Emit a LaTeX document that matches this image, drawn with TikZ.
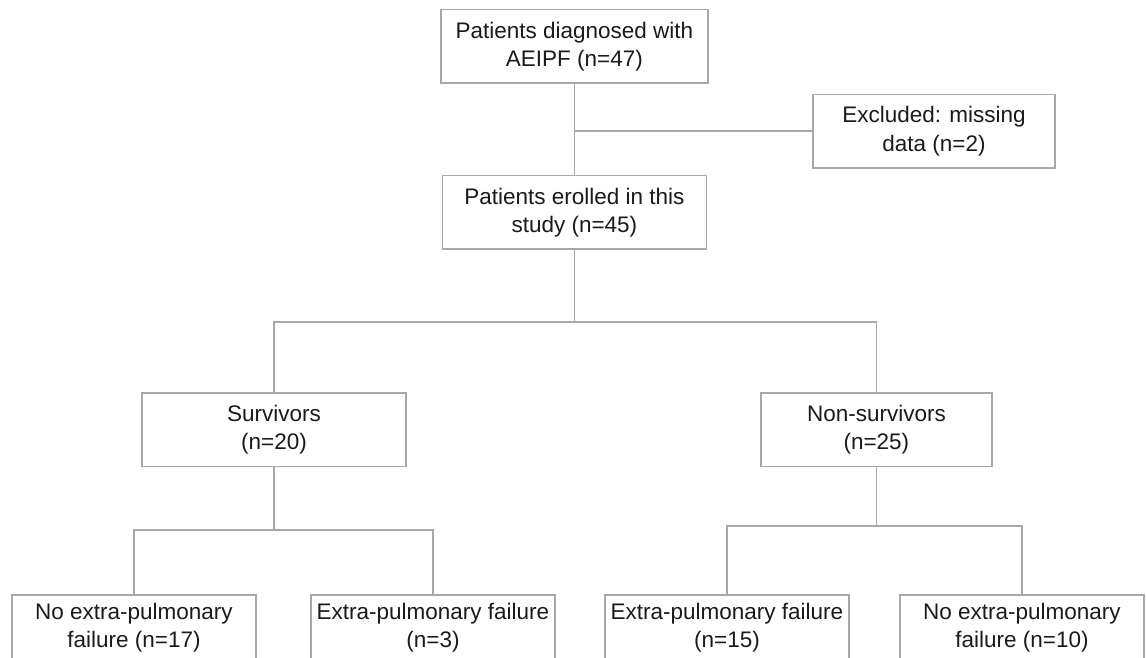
\documentclass[tikz,border=0pt]{standalone}
\usepackage{fontspec}
\setmainfont{Liberation Sans}
\usepackage{xcolor}
\usetikzlibrary{calc,positioning}
\definecolor{linegray}{RGB}{168,168,168}
\definecolor{textblack}{RGB}{26,26,26}

\begin{document}
\begin{tikzpicture}[scale = 1]
		\tikzstyle{every node}=[font=\fontsize{16}{20}\selectfont, text=textblack]
		\tikzstyle{box}=[draw=linegray, line width=1pt, align=center, inner sep=0pt, minimum height=1.84cm]
		\tikzstyle{link}=[draw=linegray, line width=1pt]
		\clip (0,0) rectangle (28.65,16.45);
		% upper part
		\node [box, minimum width=6.675cm] (diagnosed) at (14.36,15.29) {Patients diagnosed with\\AEIPF (n=47)};
		\node [box, minimum width=6.05cm] (excluded) at (23.35,13.17) {Excluded: missing\\data (n=2)};
		\node [box, minimum width=6.6cm] (enrolled) at (14.36,11.14) {Patients erolled in this\\study (n=45)};
		% outcome groups
		\node [box, minimum width=6.6cm] (survivors) at (6.85,5.7) {Survivors\\(n=20)};
		\node [box, minimum width=5.775cm] (nonsurvivors) at (21.91,5.7) {Non-survivors\\(n=25)};
		% extra-pulmonary failure
		\tikzstyle{lowbox}=[box, minimum width=6.1cm, minimum height=1.64cm]
		\node [lowbox] (survno) at (3.35,0.75) {No extra-pulmonary\\failure (n=17)};
		\node [lowbox] (survyes) at (10.825,0.75) {Extra-pulmonary failure\\(n=3)};
		\node [lowbox] (nonsurvyes) at (18.175,0.75) {Extra-pulmonary failure\\(n=15)};
		\node [lowbox] (nonsurvno) at (25.55,0.75) {No extra-pulmonary\\failure (n=10)};
		\coordinate (split1) at (14.36,8.4);
		\coordinate (split2) at (6.85,3.2);
		\coordinate (split3) at (21.91,3.3);
		\draw [link] (diagnosed) -- (enrolled);
		\draw [link] (diagnosed.south |- excluded.west) -- (excluded.west);
		\draw [link] (enrolled) -- (split1);
		\draw [link] (survivors.north) |- (split1) -| (nonsurvivors.north);
		\draw [link] (survivors) -- (split2);
		\draw [link] (survno.north) |- (split2) -| (survyes.north);
		\draw [link] (nonsurvivors) -- (split3);
		\draw [link] (nonsurvyes.north) |- (split3) -| (nonsurvno.north);
	\end{tikzpicture}
\end{document}
